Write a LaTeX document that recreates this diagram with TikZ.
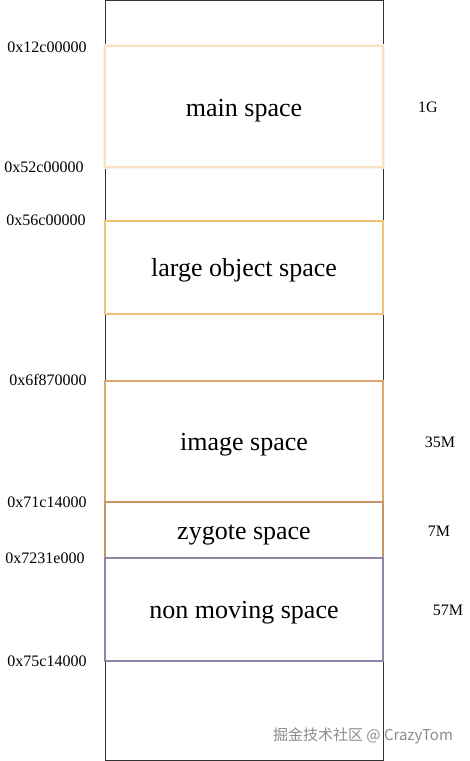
\documentclass[tikz,border=0pt]{standalone}
\usepackage{fontspec}
\setmainfont{Liberation Serif}
\newfontfamily\cjk{Noto Sans CJK SC}
\usetikzlibrary{calc}
\tikzset{>=latex}

\definecolor{mainc}{HTML}{FBE2C2}
\definecolor{largec}{HTML}{F3C27A}
\definecolor{imagec}{HTML}{E0A86C}
\definecolor{zygotec}{HTML}{C99466}
\definecolor{nonmovc}{HTML}{8D84A6}

\begin{document}
\begin{tikzpicture}[x=1pt, y=-1pt,
	space/.style={line width=1.2pt, fill=white},
	spacetext/.style={font=\fontsize{26}{30}\selectfont, anchor=base},
	addr/.style={font=\fontsize{16}{19}\selectfont, anchor=base},
	size/.style={font=\fontsize{16}{19}\selectfont, anchor=base}]
	\useasboundingbox (0,0) rectangle (470,761);

	\coordinate[](tl) at (105,0);
	\coordinate[](br) at (383,760);

	% Heap
	\draw[line width=1pt, draw=black!80] (tl) rectangle (br);

	% main space (soft glow)
	\draw[line width=4pt, draw=mainc!40] (105,46) rectangle (383,167);
	\draw[space, draw=mainc] (105,46) rectangle (383,167);
	\node[spacetext](main) at (244,116) {main space};

	\begin{scope}[]
	\foreach \t/\b/\col/\n/\txt in
	{221/314/largec/large/large object space,
	 381/502/imagec/image/image space,
	 502/558/zygotec/zygote/zygote space,
	 558/661/nonmovc/nonmov/non moving space}
	{
	\draw[space, draw=\col] (105,\t) rectangle (383,\b);
	\node[spacetext](\n) at (244,{(\t+\b)/2+9}) {\txt};
	}
	\end{scope}

	% Addresses
	\begin{scope}[]
	\foreach \x/\y/\a in
	{47/47/0x12c00000, 44/167/0x52c00000, 46/220/0x56c00000,
	 48/380/0x6f870000, 47/502/0x71c14000, 45/558/0x7231e000,
	 47/661/0x75c14000}
	{
	\node[addr](a\a) at (\x,\y+5.5) {\a};
	}
	\end{scope}

	% Sizes
	\node[size](s1) at (428,112) {1G};
	\node[size](s2) at (440,447) {35M};
	\node[size](s3) at (439,536) {7M};
	\node[size](s4) at (448,615) {57M};

	\node[font=\cjk\fontsize{15}{18}\selectfont, text=black!45](wm) at (363,736) {掘金技术社区 @ CrazyTom};
\end{tikzpicture}
\end{document}
